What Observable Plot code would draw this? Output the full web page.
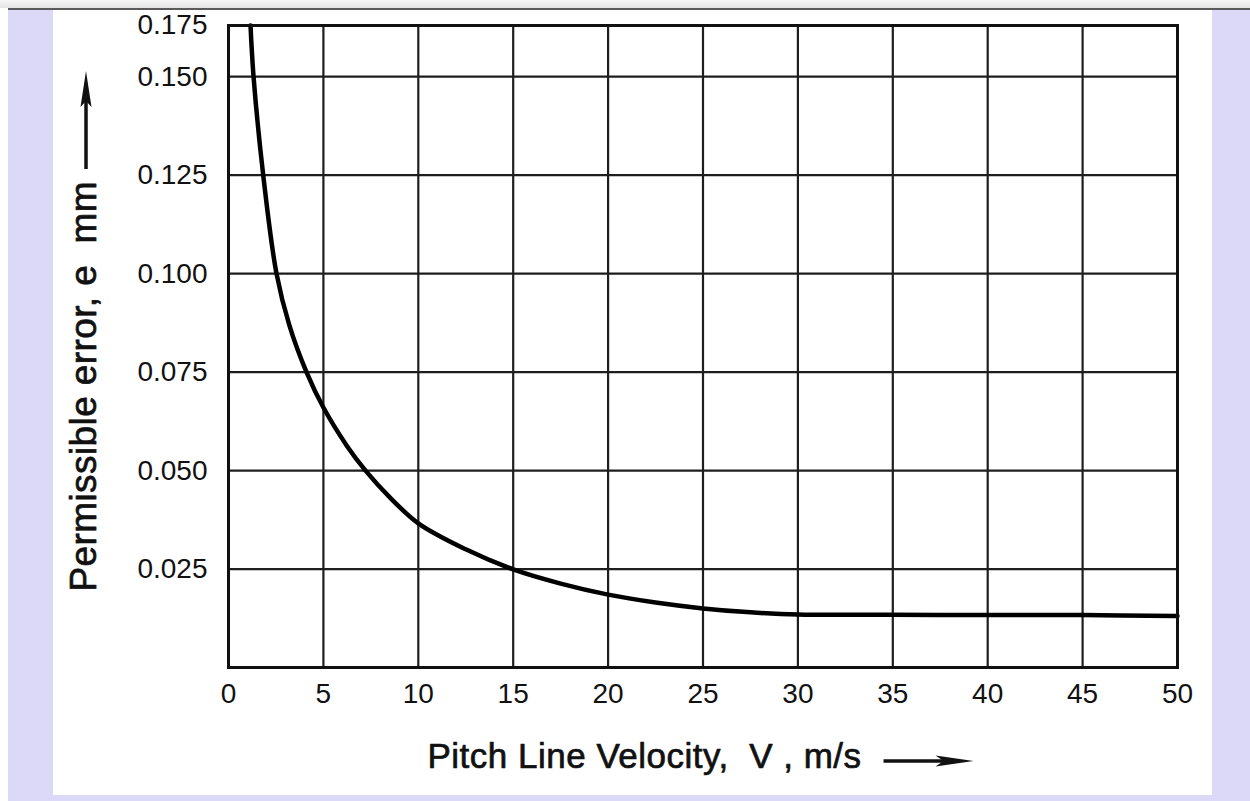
<!DOCTYPE html>
<html><head><meta charset="utf-8">
<script src="https://cdn.jsdelivr.net/npm/d3@7"></script>
<script src="https://cdn.jsdelivr.net/npm/@observablehq/plot@0.6"></script>
<style>
html,body{margin:0;padding:0;background:#fff;width:1250px;height:801px;overflow:hidden;font-family:"Liberation Sans",Arial,sans-serif;}
#topbar{position:absolute;left:0;top:0;width:1250px;height:8px;background:linear-gradient(#f6f6f6,#e4e4e4);}
#topline{position:absolute;left:8px;top:8px;width:1242px;height:2px;background:#5a5a5a;}
#lavL{position:absolute;left:8px;top:10px;width:45px;height:791px;background:#dcd8f7;}
#lavR{position:absolute;left:1212px;top:10px;width:38px;height:791px;background:#dcd8f7;}
#lavB{position:absolute;left:53px;top:795px;width:1159px;height:6px;background:#dcd8f7;}
#chart{position:absolute;left:53px;top:10px;}
svg text{white-space:pre;}
g.xtitle text{letter-spacing:0.5px;}
g.ytitle text{letter-spacing:0.4px;}
</style>
</head><body>
<div id="topbar"></div><div id="topline"></div>
<div id="lavL"></div><div id="lavR"></div><div id="lavB"></div>
<div id="chart"></div>
<script>
// Curve: pitch line velocity (m/s) vs permissible error (mm)
const velocity = [1.16, 1.32, 1.83, 2.53, 3.2, 4.11, 5, 6.25, 7.22, 8.5, 10, 12.5, 15, 17.5, 20, 22.5, 25, 27.5, 30, 35, 40, 45, 50];
const permissibleError = [0.163, 0.150, 0.125, 0.100, 0.087, 0.075, 0.066, 0.0562, 0.050, 0.0432, 0.0366, 0.0300, 0.0249, 0.0213, 0.0185, 0.0165, 0.0150, 0.0140, 0.01345, 0.0134, 0.0133, 0.0133, 0.0131];

const xTicks = [0, 5, 10, 15, 20, 25, 30, 35, 40, 45, 50];
const xTickLabels = ["0", "5", "10", "15", "20", "25", "30", "35", "40", "45", "50"];
const yTop = 0.163; // top edge of the grid (labelled "0.175" in the original)
const yTicks = [0.025, 0.05, 0.075, 0.1, 0.125, 0.15, yTop];
const yTickLabels = ["0.025", "0.050", "0.075", "0.100", "0.125", "0.150", "0.175"];
const xLabel = "Pitch Line Velocity,  V , m/s";
const yLabel = "Permissible error, e  mm";

const data = velocity.map((v, i) => ({v, e: permissibleError[i]}));

const chart = Plot.plot({
  width: 1159, height: 785,
  marginLeft: 175, marginRight: 35, marginTop: 15, marginBottom: 128,
  style: {fontFamily: '"Liberation Sans", Arial, sans-serif', color: "#111", background: "transparent", overflow: "visible"},
  x: {domain: [0, 50]},
  y: {domain: [0, yTop]},
  marks: [
    Plot.ruleX(xTicks.slice(1, -1), {stroke: "#1e1e1e", strokeWidth: 2.2}),
    Plot.ruleY(yTicks.slice(0, -1), {stroke: "#1e1e1e", strokeWidth: 2.2}),
    Plot.line(data, {x: "v", y: "e", curve: "catmull-rom", stroke: "#000", strokeWidth: 4.5}),
    Plot.frame({stroke: "#111", strokeWidth: 3}),
    Plot.axisX({ticks: xTicks, tickFormat: d => xTickLabels[xTicks.indexOf(d)], tickSize: 0, tickPadding: 16, fontSize: 28, label: null, fill: "#111", stroke: "#111", strokeWidth: 0.7}),
    Plot.axisY({ticks: yTicks, tickFormat: d => yTickLabels[yTicks.indexOf(d)], tickSize: 0, tickPadding: 21, fontSize: 28, label: null, fill: "#111", stroke: "#111", strokeWidth: 0.7}),
    Plot.text([xLabel], {frameAnchor: "bottom-left", textAnchor: "start", dx: 199, dy: 100, fontSize: 35, fill: "#111", stroke: "#111", strokeWidth: 0.7, className: "xtitle"}),
    Plot.text([yLabel], {frameAnchor: "bottom-left", textAnchor: "start", rotate: -90, dx: -133, dy: -76, fontSize: 37, fill: "#111", stroke: "#111", strokeWidth: 0.7, className: "ytitle"})
  ]
});
document.getElementById("chart").appendChild(chart);

// Arrows after the axis titles
const svg = d3.select(chart);
const sr = chart.getBoundingClientRect();
const texts = Array.from(chart.querySelectorAll("text")).filter(t => t.textContent === xLabel || t.textContent === yLabel);
texts.forEach(t => {
  const r = t.getBoundingClientRect();
  if (t.textContent === xLabel) {
    const y = r.top + r.height / 2 - sr.top + 6;
    const x0 = r.right - sr.left + 22, x1 = x0 + 90;
    svg.append("line").attr("x1", x0).attr("x2", x1 - 20).attr("y1", y).attr("y2", y).attr("stroke", "#111").attr("stroke-width", 3.5);
    svg.append("path").attr("d", `M${x1},${y} L${x1 - 38},${y - 5.5} L${x1 - 30},${y} L${x1 - 38},${y + 5.5} Z`).attr("fill", "#111");
  } else {
    const x = r.left + r.width / 2 - sr.left + 3;
    const y0 = r.top - sr.top - 12, y1 = y0 - 98;
    svg.append("line").attr("x1", x).attr("x2", x).attr("y1", y0).attr("y2", y1 + 20).attr("stroke", "#111").attr("stroke-width", 3.5);
    svg.append("path").attr("d", `M${x},${y1} L${x - 5.5},${y1 + 36} L${x},${y1 + 30} L${x + 5.5},${y1 + 36} Z`).attr("fill", "#111");
  }
});
</script>
</body></html>
